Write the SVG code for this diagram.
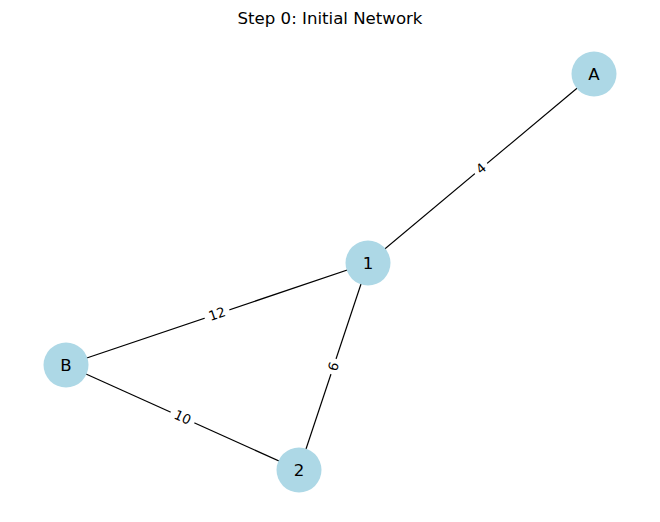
<svg xmlns="http://www.w3.org/2000/svg" width="660" height="522" viewBox="0 0 660 522">
<style>
.edge{stroke:#000;stroke-width:1.2;fill:none}
.node circle{fill:#add8e6;stroke:none}
.node text{font-family:"DejaVu Sans",sans-serif;font-size:16.6px;fill:#000;text-anchor:middle;dominant-baseline:central}
.elabel rect{fill:#fff}
.elabel text{font-family:"DejaVu Sans",sans-serif;font-size:13.3px;fill:#000;text-anchor:middle;dominant-baseline:central}
.title{font-family:"DejaVu Sans",sans-serif;font-size:16.6px;fill:#000;text-anchor:middle}
</style>
<rect width="660" height="522" fill="#fff"/>
<text class="title" x="330" y="24">Step 0: Initial Network</text>
<g id="connectors">
<line class="edge" x1="368" y1="263" x2="594" y2="74"/>
<line class="edge" x1="66" y1="365" x2="368" y2="263"/>
<line class="edge" x1="368" y1="263" x2="299" y2="470"/>
<line class="edge" x1="66" y1="365" x2="299" y2="470"/>
<g class="elabel" transform="translate(481,168.5) rotate(-39.9)"><rect x="-8" y="-9" width="16" height="18"/><text x="0" y="0">4</text></g>
<g class="elabel" transform="translate(217,314) rotate(-18.7)"><rect x="-13" y="-9" width="26" height="18"/><text x="0" y="0">12</text></g>
<g class="elabel" transform="translate(333.5,366.5) rotate(-71.6)"><rect x="-8" y="-9" width="16" height="18"/><text x="0" y="0">6</text></g>
<g class="elabel" transform="translate(182.5,417.5) rotate(24.3)"><rect x="-13" y="-9" width="26" height="18"/><text x="0" y="0">10</text></g>
</g>
<g id="node-A" class="node"><circle cx="594" cy="74" r="22.5"/><text x="594" y="74">A</text></g>
<g id="node-1" class="node"><circle cx="368" cy="263" r="22.5"/><text x="368" y="263">1</text></g>
<g id="node-B" class="node"><circle cx="66" cy="365" r="22.5"/><text x="66" y="365">B</text></g>
<g id="node-2" class="node"><circle cx="299" cy="470" r="22.5"/><text x="299" y="470">2</text></g>
</svg>
